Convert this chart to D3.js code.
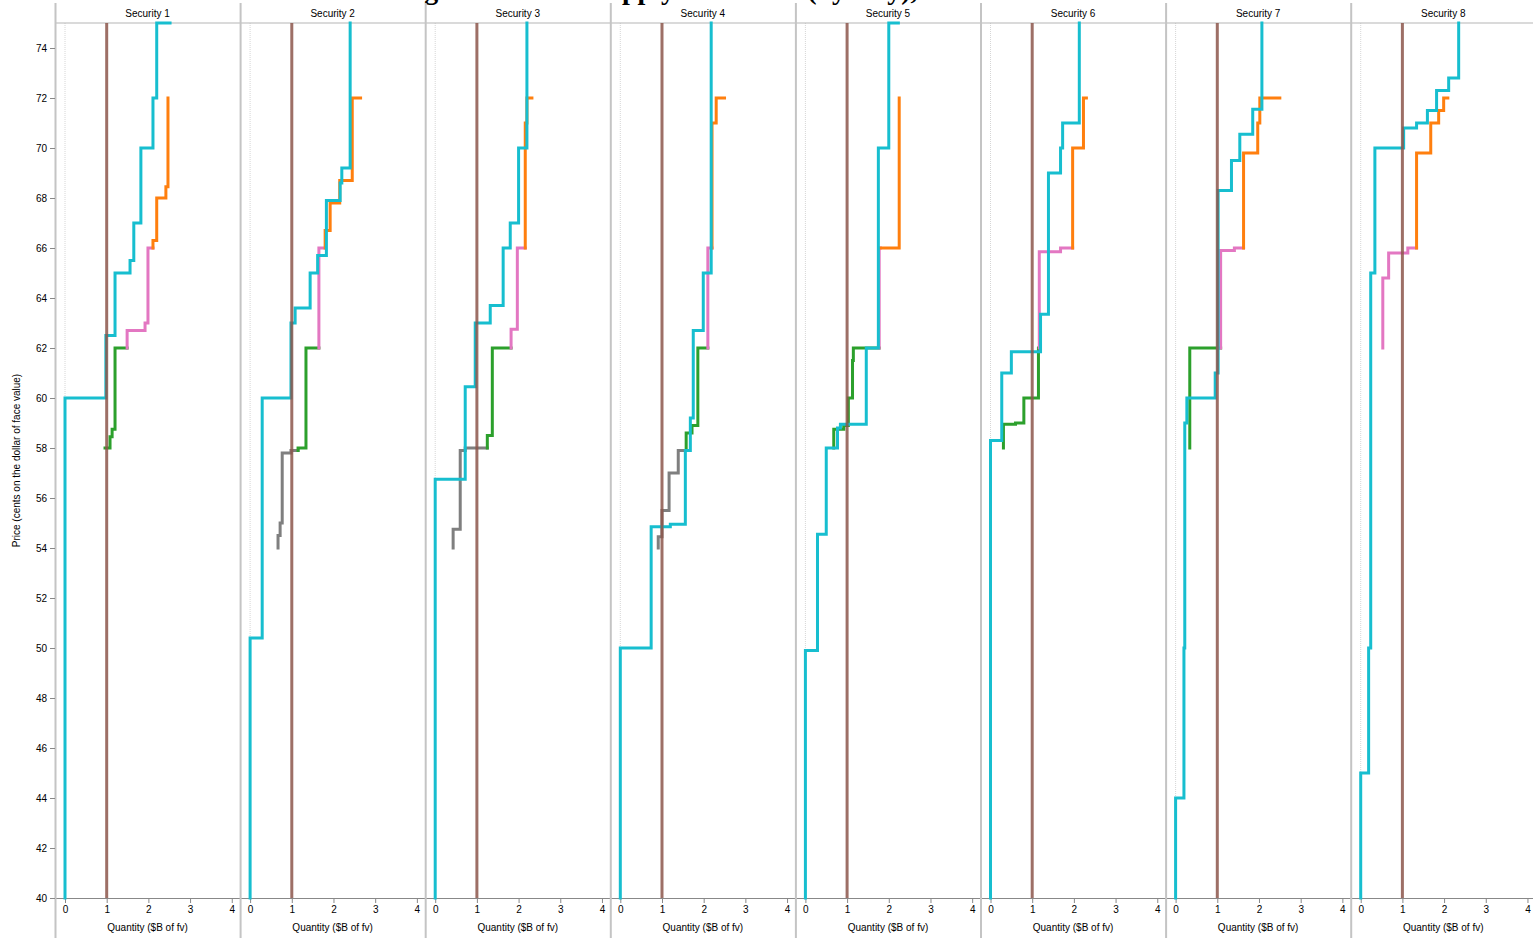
<!DOCTYPE html>
<html>
<head>
<meta charset="utf-8">
<script src="https://cdn.jsdelivr.net/npm/d3@7"></script>
<style>
  html, body { margin: 0; padding: 0; background: #fff; overflow: hidden; }
  svg { display: block; font-family: "Liberation Sans", Arial, sans-serif; }
</style>
</head>
<body>
<svg id="chart" width="1533" height="938"></svg>
<script>
// ---------------- DATA ----------------
const titleText = "Dealer Bidding Behavior & Supply Schedules (by Day), All Securities";
const securities = ["Security 1","Security 2","Security 3","Security 4","Security 5","Security 6","Security 7","Security 8"];
const xTicks = [0, 1, 2, 3, 4];
const yTicks = [40,42,44,46,48,50,52,54,56,58,60,62,64,66,68,70,72,74];
const demandQuantity = 1;   // brown vertical line (quantity, $B)

// each curve: list of [quantity ($B), price (cents)] corner points, drawn as steps
const supplyCurve = [  // cyan
  [[0,40],[0.98,60],[1.2,62.5],[1.56,65],[1.65,65.5],[1.82,67],[2.11,70],[2.2,72],[2.52,75]],
  [[0,40],[0.29,50.4],[0.98,60],[1.08,63],[1.44,63.6],[1.62,65],[1.83,65.7],[2.16,67.9],[2.2,68.6],[2.4,69.2],[2.4,75]],
  [[0,40],[0.72,56.75],[0.96,60.45],[1.32,63],[1.63,63.7],[1.8,66],[2.0,67],[2.2,70],[2.2,75]],
  [[0,40],[0.74,50],[1.2,54.85],[1.56,54.95],[1.68,57.9],[1.75,59.2],[1.99,62.7],[2.18,65],[2.18,75]],
  [[0,40],[0.29,49.9],[0.5,54.55],[0.77,58],[0.84,58.8],[1.46,58.95],[1.75,62],[2.0,70],[2.23,75]],
  [[0,40],[0.27,58.3],[0.5,61],[1.2,61.85],[1.39,63.35],[1.68,69],[1.73,70],[2.13,71],[2.13,75]],
  [[0,40],[0.2,44],[0.22,50],[0.27,59],[0.95,60],[1.02,61],[1.34,68.3],[1.54,69.5],[1.85,70.55],[2.07,71.55],[2.07,75]],
  [[0,40],[0.19,45],[0.24,50],[0.34,65],[1.03,70],[1.34,70.8],[1.6,71],[1.82,71.5],[2.11,72.3],[2.35,72.8],[2.35,75]]
];
const bidsBelow58 = [  // grey
  [],
  [[0.67,54],[0.72,54.5],[0.77,55],[0.98,57.8],[1.15,57.9]],
  [[0.43,54],[0.6,54.75],[0.72,57.9],[1.25,58]],
  [[0.91,54],[1.0,54.45],[1.17,55.5],[1.39,57],[1.56,57.9]],
  [], [], [], []
];
const bids58to62 = [  // green
  [[0.96,58],[1.08,58],[1.13,58.45],[1.2,58.75],[1.49,62]],
  [[1.15,57.9],[1.34,58],[1.65,62]],
  [[1.25,58],[1.37,58.5],[1.82,62]],
  [[1.58,58],[1.72,58.6],[1.86,58.9],[2.1,62]],
  [[0.68,58],[0.92,58.75],[1.03,58.9],[1.13,60],[1.15,61.5],[1.77,62]],
  [[0.31,58],[0.6,58.95],[0.8,59],[1.15,60],[1.17,62]],
  [[0.34,58],[1.08,62]],
  []
];
const bids62to66 = [  // pink
  [[1.49,62],[1.92,62.7],[1.99,63],[2.11,66]],
  [[1.65,62],[1.8,66]],
  [[1.82,62],[1.97,62.75],[2.16,66]],
  [[2.1,62],[2.2,66]],
  [[1.77,62],[1.8,66]],
  [[1.17,62],[1.68,65.85],[1.97,66]],
  [[1.08,62],[1.41,65.9],[1.63,66]],
  [[0.53,62],[0.67,64.8],[1.13,65.8],[1.34,66]]
];
const bidsAbove66 = [  // orange
  [[2.11,66],[2.2,66.3],[2.42,68],[2.47,68.45],[2.47,72]],
  [[1.8,66],[1.92,66.7],[2.15,67.8],[2.45,68.7],[2.65,72]],
  [[2.16,66],[2.2,71],[2.32,72]],
  [[2.2,66],[2.3,71],[2.5,72]],
  [[1.8,66],[2.25,66],[2.25,72]],
  [[1.97,66],[2.23,70],[2.3,72]],
  [[1.63,66],[1.97,69.8],[2.02,71],[2.5,72]],
  [[1.34,66],[1.68,69.8],[1.87,71],[1.99,71.5],[2.09,72]]
];

// ---------------- LAYOUT ----------------
const svg = d3.select("#chart");
const plotLeft = 55, panelW = 185.1, plotTop = 23, plotBottom = 898, headerTop = 3;
const x = d3.scaleLinear().domain([-0.24, 4.2]).range([0, panelW]);
const y = d3.scaleLinear().domain([40, 75]).range([plotBottom, plotTop]);
const line = d3.line().x(d => x(d[0])).y(d => y(d[1])).curve(d3.curveStepBefore);

const seriesList = [
  {data: bidsBelow58, color: "#7f7f7f"},
  {data: bids58to62, color: "#2ca02c"},
  {data: bids62to66, color: "#e377c2"},
  {data: bidsAbove66, color: "#ff7f0e"},
  {data: supplyCurve, color: "#17becf"}
];

// Title (sits above the page edge, only descenders show, as in the reference)
const titleFont = "'Liberation Serif', 'Times New Roman', serif";
const title = svg.append("text")
  .attr("y", -1)
  .style("font-family", titleFont)
  .style("font-weight", "bold")
  .style("font-size", "28px")
  .attr("fill", "#000");
const probe = svg.append("text")
  .style("font-family", titleFont)
  .style("font-weight", "bold").style("font-size", "28px")
  .text("Dealer Bidding Behavior & Su");
const prefixW = probe.node().getComputedTextLength();
probe.remove();
title.attr("x", 622 - prefixW).text(titleText);

securities.forEach((name, i) => {
  const g = svg.append("g").attr("transform", `translate(${plotLeft + i * panelW},0)`);

  // zero rule
  g.append("line")
    .attr("x1", x(0)).attr("x2", x(0))
    .attr("y1", plotTop).attr("y2", plotBottom)
    .attr("stroke", "#d6d6d6").attr("stroke-width", 1).attr("stroke-dasharray", "1,1");

  // header
  g.append("text").attr("x", panelW / 2).attr("y", 17)
    .attr("text-anchor", "middle").attr("font-size", 10).attr("fill", "#000").text(name);

  // top line
  g.append("line").attr("x1", 0).attr("x2", panelW).attr("y1", plotTop).attr("y2", plotTop)
    .attr("stroke", "#b5b5b5").attr("stroke-width", 1);

  // x axis
  const xa = g.append("g").attr("transform", `translate(0,${plotBottom})`)
    .call(d3.axisBottom(x).tickValues(xTicks).tickFormat(d3.format("d")).tickSize(5).tickPadding(3));
  xa.select(".domain").attr("stroke", "#888").attr("d", `M0,0.5H${panelW}`);
  xa.selectAll(".tick line").attr("stroke", "#888");
  xa.selectAll(".tick text").attr("font-size", 10).attr("fill", "#000")
    .attr("font-family", "'Liberation Sans', Arial, sans-serif");
  g.append("text").attr("x", panelW / 2).attr("y", 931)
    .attr("text-anchor", "middle").attr("font-size", 10).attr("fill", "#000")
    .text("Quantity ($B of fv)");

  // curves
  seriesList.forEach(s => {
    const pts = s.data[i];
    if (!pts || !pts.length) return;
    g.append("path").datum(pts).attr("d", line)
      .attr("fill", "none").attr("stroke", s.color).attr("stroke-width", 3)
      .attr("stroke-linejoin", "miter").attr("stroke-linecap", "square");
  });

  // demand quantity rule
  g.append("line")
    .attr("x1", x(demandQuantity)).attr("x2", x(demandQuantity))
    .attr("y1", y(40)).attr("y2", y(75))
    .attr("stroke", "#8c564b").attr("stroke-width", 3).attr("stroke-opacity", 0.85);

  // panel separator
  g.append("line").attr("x1", 0.5).attr("x2", 0.5).attr("y1", headerTop).attr("y2", 938)
    .attr("stroke", "#c4c4c4").attr("stroke-width", 2);
});

// y axis
const ya = svg.append("g").attr("transform", `translate(${plotLeft},0)`)
  .call(d3.axisLeft(y).tickValues(yTicks).tickFormat(d3.format("d")).tickSize(5).tickPadding(3));
ya.select(".domain").remove();
ya.selectAll(".tick line").attr("stroke", "#888");
ya.selectAll(".tick text").attr("font-size", 10).attr("fill", "#000")
  .attr("font-family", "'Liberation Sans', Arial, sans-serif");

svg.append("text")
  .attr("transform", `translate(20,${(plotTop + plotBottom) / 2}) rotate(-90)`)
  .attr("text-anchor", "middle").attr("font-size", 10).attr("fill", "#000")
  .text("Price (cents on the dollar of face value)");
</script>
</body>
</html>
